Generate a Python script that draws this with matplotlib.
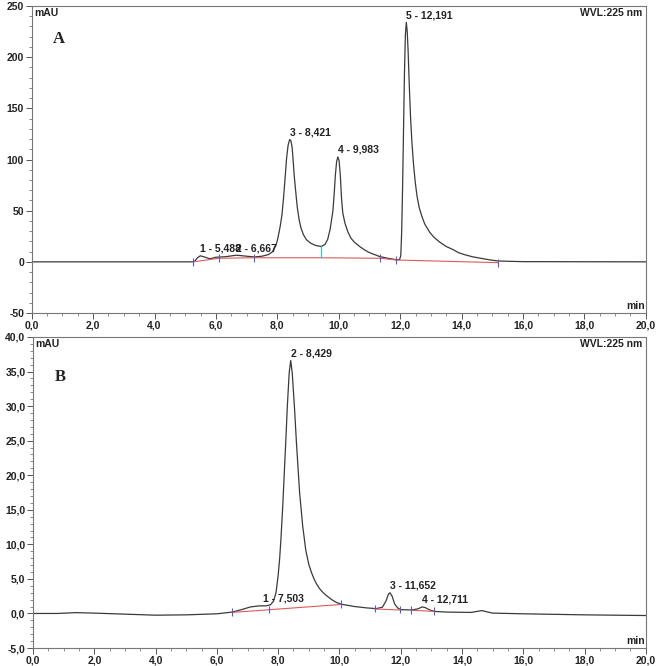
import numpy as np
import matplotlib
matplotlib.use("Agg")
import matplotlib.pyplot as plt
from matplotlib.ticker import MultipleLocator, FuncFormatter

plt.rcParams['font.family'] = ['Liberation Sans', 'DejaVu Sans']

# --- chromatogram A ---
a_time = [0.0, 5.2, 5.3, 5.4, 5.49, 5.6, 5.8, 6.0, 6.3, 6.67, 7.0, 7.25, 7.5, 7.7,
          7.85, 7.95, 8.0, 8.05, 8.1, 8.15, 8.2, 8.25, 8.3, 8.35, 8.4, 8.44, 8.48,
          8.5, 8.55, 8.6, 8.65, 8.71, 8.77, 8.85, 8.95, 9.1, 9.25, 9.43, 9.55,
          9.64, 9.72, 9.76, 9.81, 9.85, 9.89, 9.93, 9.97, 10.01, 10.05, 10.09,
          10.13, 10.2, 10.3, 10.4, 10.5, 10.68, 10.85, 11.0, 11.33,
          11.6, 11.88, 11.98, 12.02, 12.05, 12.08, 12.11, 12.14, 12.17, 12.2,
          12.23, 12.26, 12.3, 12.34, 12.38, 12.43, 12.49, 12.55, 12.62, 12.7,
          12.8, 12.96, 13.1, 13.3, 13.5, 13.72, 13.9, 14.1, 14.35, 14.6, 14.9,
          15.2, 16.0, 20.0]
a_mau = [0, 0, 0.3, 4.0, 5.9, 5.0, 3.0, 4.5, 5.0, 6.5, 5.5, 4.8, 5.5, 7.0,
         10, 16, 21, 28, 36, 46, 62, 81, 101, 114, 119.5, 118.5, 112,
         105, 84, 68, 53, 41, 33, 26.5, 21.5, 18, 16, 15, 17,
         22, 32, 40, 50, 66, 85, 98, 102.5, 99, 85, 62,
         48, 38, 29, 23, 19.5, 15, 11.5, 9, 5.2,
         3.5, 2.0, 2.2, 6, 30, 75, 130, 185, 222, 234,
         225, 205, 170, 140, 118, 97, 78, 64, 53, 45,
         37, 29, 24, 19, 15, 12, 9, 7, 5, 3.6, 2,
         0.8, 0.2, 0]
a_base_time = [5.26, 6.1, 7.25, 9.43, 11.35, 11.88, 15.2]
a_base_mau = [0.0, 3.5, 4.0, 4.0, 3.5, 1.8, -0.8]
a_mark_time = [5.26, 6.1, 7.25, 11.35, 11.88, 15.2]
a_mark_mau = [0.0, 3.5, 4.0, 3.5, 1.8, -0.8]
a_labels = ["1 - 5,488", "2 - 6,667", "3 - 8,421", "4 - 9,983", "5 - 12,191"]
a_peak_time = [5.488, 6.667, 8.421, 9.983, 12.191]
a_peak_mau = [5.9, 6.5, 119.5, 102.5, 234]

# --- chromatogram B ---
b_time = [0.0, 0.8, 1.4, 2.0, 3.0, 4.0, 5.0, 6.0, 6.5, 6.8, 7.1, 7.4, 7.6, 7.75,
          7.85, 7.93, 8.0, 8.05, 8.09, 8.15, 8.2, 8.25, 8.3, 8.36, 8.41, 8.46,
          8.53, 8.6, 8.66, 8.7, 8.8, 8.9, 9.0, 9.09, 9.17, 9.25, 9.35, 9.47,
          9.6, 9.75, 9.9, 10.05,
          10.5, 10.9, 11.2, 11.4, 11.52, 11.6, 11.65, 11.72, 11.8, 11.9, 12.0,
          12.35, 12.55, 12.7, 12.8, 12.95, 13.1, 13.5, 14.3, 14.5, 14.65, 14.8,
          15.0, 16.0, 18.0, 20.0]
b_mau = [0.0, 0.0, 0.12, 0.05, -0.1, -0.25, -0.2, -0.05, 0.2, 0.55, 0.95, 1.1, 1.1, 1.25,
         1.8, 3.0, 5.5, 8.0, 10.7, 15.5, 20.3, 25, 30, 34.8, 36.6, 34.8,
         30, 24.5, 20.3, 17.5, 12.7, 9.2, 7.1, 5.9, 5.0, 4.3, 3.6, 3.0,
         2.5, 2.0, 1.6, 1.35,
         1.0, 0.8, 0.7, 0.9, 1.8, 2.8, 3.0, 2.5, 1.4, 0.8, 0.55,
         0.5, 0.65, 0.95, 0.85, 0.5, 0.3, 0.2, 0.15, 0.3, 0.42, 0.25,
         0.05, -0.05, -0.2, -0.3]
b_base_segments = [([6.5, 10.05], [0.15, 1.3]),
                   ([11.15, 11.97], [0.65, 0.5]),
                   ([12.33, 13.1], [0.47, 0.3])]
b_mark_time = [6.5, 7.7, 10.05, 11.15, 11.97, 12.33, 13.1]
b_mark_mau = [0.15, 0.5, 1.3, 0.65, 0.5, 0.47, 0.3]
b_labels = ["1 - 7,503", "2 - 8,429", "3 - 11,652", "4 - 12,711"]
b_peak_time = [7.503, 8.429, 11.652, 12.711]
b_peak_mau = [1.1, 36.6, 3.0, 0.95]

FS = 7.5
TRACE = '#3a3a3a'
BASE = '#e05a5a'
MARK = '#5a5ad0'


def comma(fmt):
    return FuncFormatter(lambda v, p: (fmt % v).replace('.', ','))


def style_axes(ax, ymin, ymax, ymaj, ymin_step, yfmt):
    ax.set_xlim(0, 20)
    ax.set_ylim(ymin, ymax)
    ax.xaxis.set_major_locator(MultipleLocator(2))
    ax.xaxis.set_minor_locator(MultipleLocator(0.5))
    ax.yaxis.set_major_locator(MultipleLocator(ymaj))
    ax.yaxis.set_minor_locator(MultipleLocator(ymin_step))
    ax.xaxis.set_major_formatter(comma('%.1f'))
    ax.yaxis.set_major_formatter(comma(yfmt))
    ax.tick_params(which='major', direction='out', length=4, width=0.7,
                   labelsize=FS, pad=1.5, color='#555555')
    ax.tick_params(which='minor', direction='out', length=2, width=0.6,
                   color='#777777')
    for lab in ax.get_xticklabels() + ax.get_yticklabels():
        lab.set_fontweight('bold')
        lab.set_color('#222222')
    for s in ax.spines.values():
        s.set_color('#777777')
        s.set_linewidth(0.8)
    ax.text(0.004, 0.995, "mAU", transform=ax.transAxes, ha='left', va='top',
            fontsize=FS, fontweight='bold', color='#222222')
    ax.text(0.995, 0.995, "WVL:225 nm", transform=ax.transAxes, ha='right', va='top',
            fontsize=FS, fontweight='bold', color='#222222')
    ax.text(0.999, 0.005, "min", transform=ax.transAxes, ha='right', va='bottom',
            fontsize=FS, fontweight='bold', color='#222222')


fig = plt.figure(figsize=(6.61, 6.66), dpi=100)

# panel A
ax1 = fig.add_axes([0.048, 0.530, 0.929, 0.461])
ax1.plot(a_time, a_mau, color=TRACE, lw=0.9)
ax1.plot(a_base_time, a_base_mau, color=BASE, lw=0.8)
ax1.vlines(a_mark_time, np.array(a_mark_mau) - 4, np.array(a_mark_mau) + 4,
           color=MARK, lw=0.8)
ax1.vlines([9.43], [4.0], [15.5], color='#40c0c8', lw=0.9)
for lab, t, v in zip(a_labels, a_peak_time, a_peak_mau):
    ax1.annotate(lab, (t, v), xytext=(0, 1.5), textcoords='offset points',
                 ha='left', va='bottom', fontsize=FS, fontweight='bold',
                 color='#222222')
style_axes(ax1, -50, 250, 50, 10, '%d')
ax1.text(0.035, 0.88, "A", transform=ax1.transAxes, fontsize=12,
         fontweight='bold', family='Liberation Serif', color='#222222')

# panel B
ax2 = fig.add_axes([0.050, 0.027, 0.927, 0.467])
ax2.plot(b_time, b_mau, color=TRACE, lw=0.9)
for seg_t, seg_v in b_base_segments:
    ax2.plot(seg_t, seg_v, color=BASE, lw=0.8)
ax2.vlines(b_mark_time, np.array(b_mark_mau) - 0.5, np.array(b_mark_mau) + 0.6,
           color=MARK, lw=0.8)
for lab, t, v in zip(b_labels, b_peak_time, b_peak_mau):
    ax2.annotate(lab, (t, v), xytext=(0, 1.5), textcoords='offset points',
                 ha='left', va='bottom', fontsize=FS, fontweight='bold',
                 color='#222222')
style_axes(ax2, -5, 40, 5, 1, '%.1f')
ax2.text(0.035, 0.86, "B", transform=ax2.transAxes, fontsize=12,
         fontweight='bold', family='Liberation Serif', color='#222222')

fig.savefig("out.png", dpi=100)
